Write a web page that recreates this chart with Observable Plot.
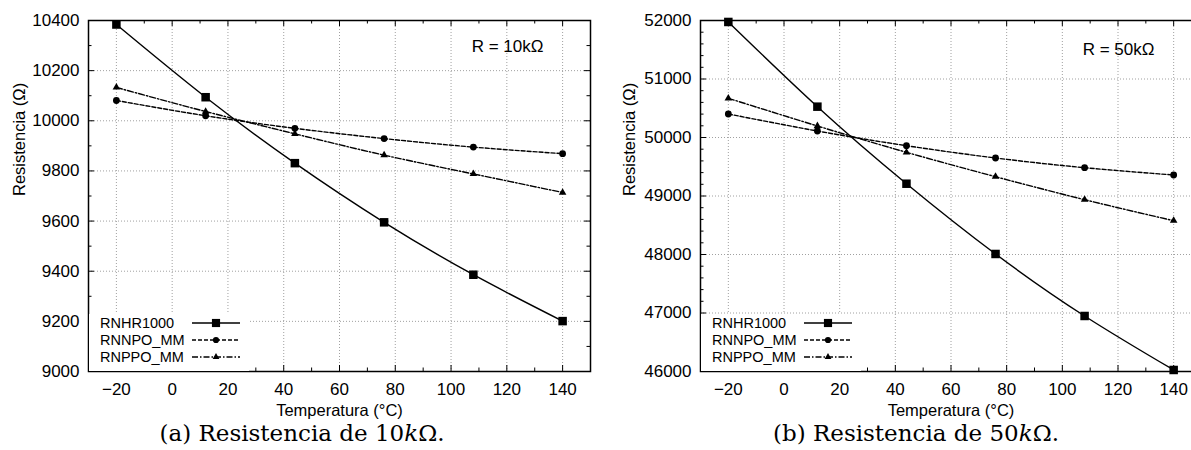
<!DOCTYPE html>
<html><head><meta charset="utf-8">
<script src="https://cdn.jsdelivr.net/npm/d3@7"></script>
<script src="https://cdn.jsdelivr.net/npm/@observablehq/plot@0.6"></script>
<style>
html,body{margin:0;padding:0;background:#fff;}
body{width:1191px;height:450px;overflow:hidden;position:relative;font-family:"Liberation Sans",Arial,sans-serif;}
.panel{position:absolute;top:0;}
.panel svg{max-width:none !important;display:block;}
.caption{position:absolute;font-family:"DejaVu Serif",serif;font-size:23px;line-height:26px;transform:translateX(-50%);white-space:nowrap;color:#000;}
.legend{position:absolute;background:#fff;font-size:14.5px;color:#000;}
.legend .row{display:flex;align-items:center;height:17px;}
.legend .lab{width:92px;padding-left:11px;line-height:17px;}
.legend svg{display:block;}
</style></head><body>
<div id="pa" class="panel" style="left:0px;width:600px"></div>
<div id="pb" class="panel" style="left:600px;width:611px"></div>
<script>
// ---- data ----
const temperatures = [-20, 12, 44, 76, 108, 140];
const seriesNames = ["RNHR1000", "RNNPO_MM", "RNPPO_MM"];
const r10k_RNHR1000 = [10384, 10094, 9831, 9595, 9386, 9201];
const r10k_RNNPO_MM = [10081, 10020, 9970, 9929, 9895, 9869];
const r10k_RNPPO_MM = [10133, 10037, 9948, 9863, 9788, 9714];
const r50k_RNHR1000 = [51975, 50527, 49210, 48009, 46949, 46026];
const r50k_RNNPO_MM = [50402, 50111, 49860, 49650, 49484, 49359];
const r50k_RNPPO_MM = [50670, 50197, 49747, 49330, 48937, 48578];
const xTicks = [-20, 0, 20, 40, 60, 80, 100, 120, 140];
const xMinor = [-10, 10, 30, 50, 70, 90, 110, 130];
const yTicksA = [9000, 9200, 9400, 9600, 9800, 10000, 10200, 10400];
const yMinorA = [9100, 9300, 9500, 9700, 9900, 10100, 10300];
const yTicksB = [46000, 47000, 48000, 49000, 50000, 51000, 52000];
const yMinorB = [46200, 46400, 46600, 46800, 47200, 47400, 47600, 47800, 48200, 48400, 48600, 48800,
                 49200, 49400, 49600, 49800, 50200, 50400, 50600, 50800, 51200, 51400, 51600, 51800];
const xLabel = "Temperatura (°C)";
const yLabel = "Resistencia (Ω)";

// ---- styles ----
const styles = {
  RNHR1000: {dash: null, symbol: "square", r: 4.8, lr: 4.6},
  RNNPO_MM: {dash: "4,2", symbol: "circle", r: 3.4, lr: 3.1},
  RNPPO_MM: {dash: "6,2,1.5,2", symbol: "triangle", r: 2.8, lr: 2.5}
};

function rows(vals) {
  const out = [];
  seriesNames.forEach((s, k) => vals[k].forEach((v, i) => out.push({series: s, T: temperatures[i], R: v})));
  return out;
}

function chart({width, marginLeft, yDomain, yTicks, yMinor, vals, note, noteDy, yLabelDx}) {
  const H = 400, mt = 20, mb = 29, mr = 10;
  const ph = H - mt - mb, pw = width - marginLeft - mr;
  const data = rows(vals);
  const fmt = d3.format("d");
  const gridStyle = {stroke: "#a0a0a0", strokeOpacity: 1, strokeWidth: 1, strokeDasharray: "1,2"};
  const marks = [
    Plot.gridX(xTicks, gridStyle),
    Plot.gridY(yTicks, gridStyle),
    // inward ticks on all four sides
    Plot.tickX(xTicks, {x: d => d, insetTop: ph - 6, stroke: "#000"}),
    Plot.tickX(xTicks, {x: d => d, insetBottom: ph - 6, stroke: "#000"}),
    Plot.tickX(xMinor, {x: d => d, insetTop: ph - 3.5, stroke: "#000"}),
    Plot.tickX(xMinor, {x: d => d, insetBottom: ph - 3.5, stroke: "#000"}),
    Plot.tickY(yTicks, {y: d => d, insetRight: pw - 6, stroke: "#000"}),
    Plot.tickY(yTicks, {y: d => d, insetLeft: pw - 6, stroke: "#000"}),
    Plot.tickY(yMinor, {y: d => d, insetRight: pw - 3.5, stroke: "#000"}),
    Plot.tickY(yMinor, {y: d => d, insetLeft: pw - 3.5, stroke: "#000"}),
    Plot.axisX(xTicks, {tickSize: 0, tickPadding: 11, tickFormat: fmt, fontSize: 17, label: null}),
    Plot.axisY(yTicks, {tickSize: 0, tickPadding: 9, tickFormat: fmt, fontSize: 17, label: null}),
    Plot.text([xLabel], {text: d => d, frameAnchor: "bottom", dy: 39, fontSize: 16.5, lineAnchor: "middle"}),
    Plot.text([yLabel], {text: d => d, frameAnchor: "left", rotate: -90, dx: yLabelDx, fontSize: 16.5, lineAnchor: "middle"}),
    Plot.text([note], {text: d => d, frameAnchor: "top-right", dx: -47, dy: noteDy, textAnchor: "end", lineAnchor: "middle", fontSize: 17}),
  ];
  seriesNames.forEach(s => {
    const st = styles[s];
    const sub = data.filter(d => d.series === s);
    marks.push(Plot.line(sub, {x: "T", y: "R", curve: "natural", stroke: "#000", strokeWidth: 1.4, strokeDasharray: st.dash}));
    marks.push(Plot.dot(sub, {x: "T", y: "R", symbol: () => st.symbol, r: st.r, fill: "#000", stroke: "none"}));
  });
  marks.push(Plot.frame({stroke: "#000", strokeWidth: 1.5}));
  return Plot.plot({
    width, height: H, marginTop: mt, marginBottom: mb, marginLeft, marginRight: mr,
    style: {fontFamily: "'Liberation Sans', Arial, sans-serif", color: "#000", background: "transparent", overflow: "visible", maxWidth: "none"},
    x: {domain: [-30, 150]},
    y: {domain: yDomain},
    symbol: {type: "identity"},
    marks
  });
}

function legend(left) {
  const div = document.createElement("div");
  div.className = "legend";
  div.style.left = left + "px";
  div.style.top = "314px";
  div.style.width = "160px";
  div.style.height = "56px";
  div.style.paddingTop = "0.5px";
  seriesNames.forEach(s => {
    const st = styles[s];
    const row = document.createElement("div");
    row.className = "row";
    const lab = document.createElement("span");
    lab.className = "lab";
    lab.textContent = s;
    row.appendChild(lab);
    const svg = d3.create("svg").attr("width", 48).attr("height", 12);
    svg.append("line").attr("x1", 0).attr("x2", 48).attr("y1", 6).attr("y2", 6)
      .attr("stroke", "#000").attr("stroke-width", 1.3).attr("stroke-dasharray", st.dash);
    const sym = {square: d3.symbolSquare, circle: d3.symbolCircle, triangle: d3.symbolTriangle}[st.symbol];
    svg.append("path").attr("transform", "translate(24,6)")
      .attr("d", d3.symbol(sym, Math.PI * st.lr * st.lr)()).attr("fill", "#000");
    row.appendChild(svg.node());
    div.appendChild(row);
  });
  document.body.appendChild(div);
}

function caption(text, cx) {
  const c = document.createElement("div");
  c.className = "caption";
  c.style.left = cx + "px";
  c.style.top = "420px";
  c.innerHTML = text;
  document.body.appendChild(c);
}

document.getElementById("pa").appendChild(chart({
  width: 600, marginLeft: 88, yDomain: [9000, 10400], yTicks: yTicksA, yMinor: yMinorA,
  vals: [r10k_RNHR1000, r10k_RNNPO_MM, r10k_RNPPO_MM], note: "R = 10kΩ", noteDy: 26, yLabelDx: -69
}));
document.getElementById("pb").appendChild(chart({
  width: 611, marginLeft: 100, yDomain: [46000, 52000], yTicks: yTicksB, yMinor: yMinorB,
  vals: [r50k_RNHR1000, r50k_RNNPO_MM, r50k_RNPPO_MM], note: "R = 50kΩ", noteDy: 29, yLabelDx: -71
}));
legend(89);
legend(701);
caption("(a) Resistencia de 10<i>k</i>Ω.", 302);
caption("(b) Resistencia de 50<i>k</i>Ω.", 916);
</script>
</body></html>
